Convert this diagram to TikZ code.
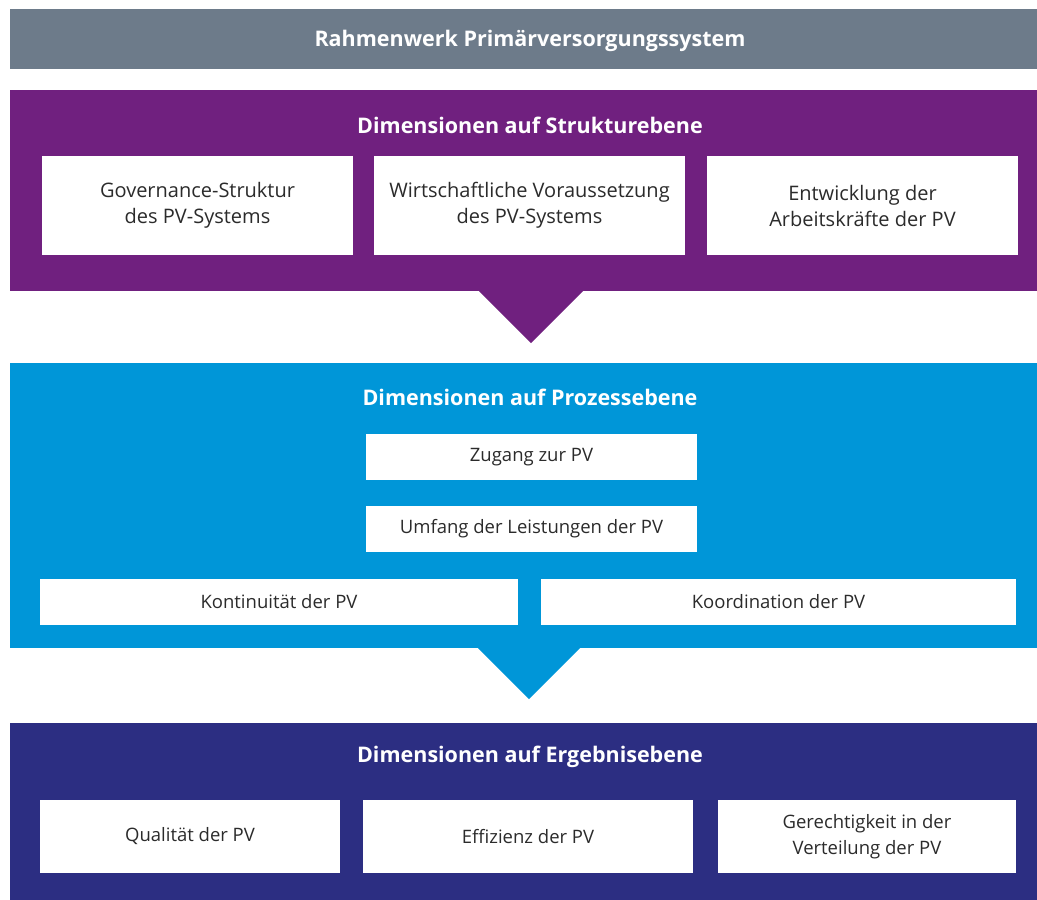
\documentclass[tikz,border=0pt]{standalone}
\usepackage{fontspec}
\setmainfont{Open Sans}
\definecolor{cgray}{HTML}{6D7B8A}
\definecolor{cpurple}{HTML}{70207F}
\definecolor{cblue}{HTML}{0096D8}
\definecolor{cdark}{HTML}{2C2E82}
\definecolor{ctext}{HTML}{2B2B2B}
\begin{document}
\begin{tikzpicture}[x=1pt,y=-1pt,
  band/.style={inner sep=0pt, minimum width=1027pt, anchor=center},
  box/.style={fill=white, inner sep=0pt, align=center, text=ctext, font=\fontsize{18.5}{26}\selectfont, anchor=center},
  sbox/.style={box, font=\fontsize{20}{26}\selectfont, minimum width=311pt, minimum height=99pt},
  head/.style={text=white, font=\fontsize{21.5}{26}\selectfont\bfseries, anchor=center}]
\useasboundingbox (0,0) rectangle (1037,900);
% bands
\node[band, fill=cgray, minimum height=60pt] (frame) at (523.5,39) {};
\node[band, fill=cpurple, minimum height=201pt] (struct) at (523.5,190.5) {};
\node[band, fill=cblue, minimum height=285pt] (proc) at (523.5,505.5) {};
\node[band, fill=cdark, minimum height=177pt] (result) at (523.5,811.5) {};
% arrows
\coordinate (sA) at (531,291);
\coordinate (pA) at (529,648);
\fill[cpurple] ([xshift=-52pt]sA) -- ([xshift=52pt]sA) -- ([yshift=-52pt]sA) -- cycle;
\fill[cblue] ([xshift=-51pt]pA) -- ([xshift=51pt]pA) -- ([yshift=-51pt]pA) -- cycle;
% headings
\node[head] (t0) at (530,41) {Rahmenwerk Primärversorgungssystem};
\node[head] (t1) at (530,125) {Dimensionen auf Strukturebene};
\node[head] (t2) at (530,397) {Dimensionen auf Prozessebene};
\node[head] (t3) at (530,757) {Dimensionen auf Ergebnisebene};
% structure boxes
\node[sbox] (s1) at (197.5,205.5) {Governance-Struktur\\des PV-Systems};
\node[sbox] (s2) at (529.5,205.5) {Wirtschaftliche Voraussetzung\\des PV-Systems};
\node[sbox] (s3) at (862.5,205.5) {Entwicklung der\\Arbeitskräfte der PV};
% process boxes
\node[box, minimum width=331pt, minimum height=46pt] (p1) at (531.5,457) {Zugang zur PV};
\node[box, minimum width=331pt, minimum height=46pt] (p2) at (531.5,529) {Umfang der Leistungen der PV};
\node[box, minimum width=478pt, minimum height=46pt] (p3) at (279,602) {Kontinuität der PV};
\node[box, minimum width=475pt, minimum height=46pt] (p4) at (778.5,602) {Koordination der PV};
% result boxes
\node[box, minimum width=300pt, minimum height=73pt] (r1) at (190,836.5) {Qualität der PV};
\node[box, minimum width=330pt, minimum height=73pt] (r2) at (528,836.5) {Effizienz der PV};
\node[box, minimum width=298pt, minimum height=73pt] (r3) at (867,836.5) {Gerechtigkeit in der\\Verteilung der PV};
\end{tikzpicture}
\end{document}
